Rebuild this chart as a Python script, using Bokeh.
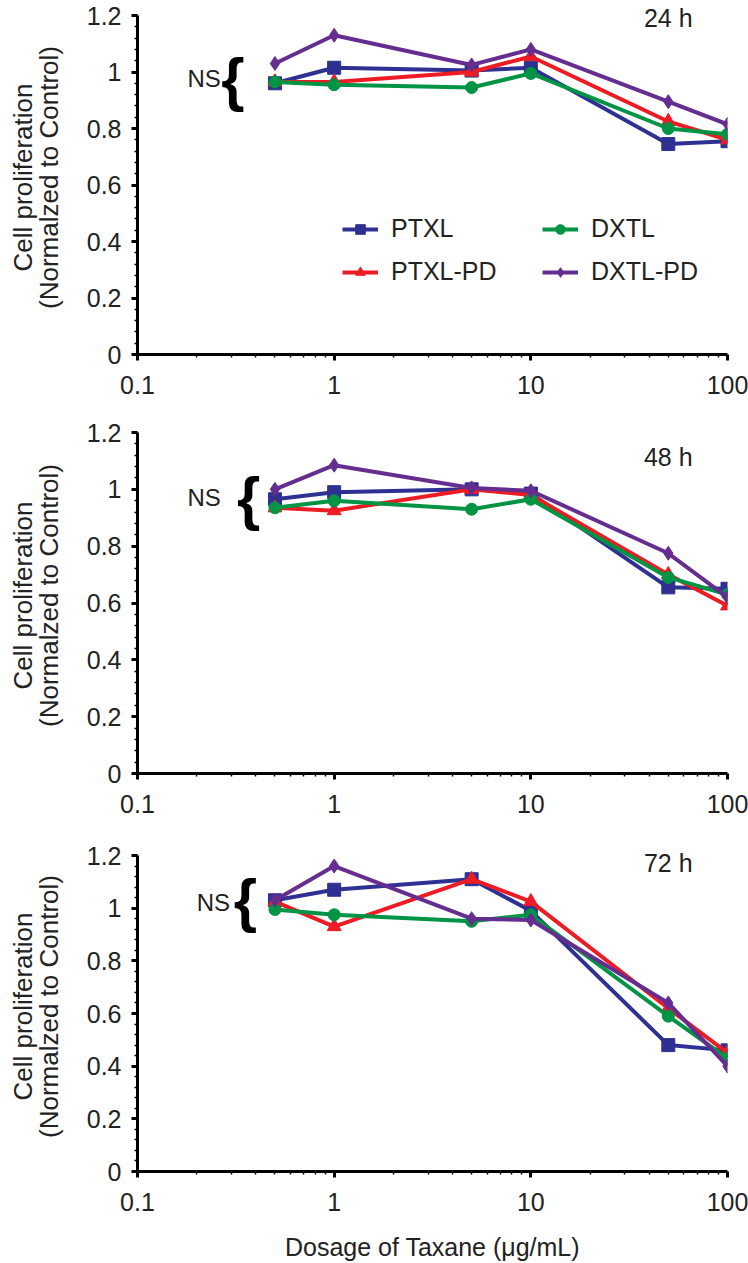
from bokeh.plotting import figure
from bokeh.layouts import column
from bokeh.models import Range1d, FixedTicker, NumeralTickFormatter, Label, Legend, LegendItem
from bokeh.embed import file_html
from bokeh.resources import INLINE

FONT = "Liberation Sans"

# ---------------- data ----------------
doses = [0.5, 1, 5, 10, 50, 100]
series = ["PTXL", "PTXL-PD", "DXTL", "DXTL-PD"]
colors = ["#2E3192", "#ED1C24", "#009444", "#662D91"]
markers = ["square", "triangle", "circle", "diamond"]
marker_sizes = [13, 14, 12, 14]

x_ticks = [0.1, 1, 10, 100]
y_ticks = [0, 0.2, 0.4, 0.6, 0.8, 1.0, 1.2]
time_labels = ["24 h", "48 h", "72 h"]

ptxl_24h = [0.96, 1.015, 1.005, 1.015, 0.745, 0.755]
ptxlpd_24h = [0.965, 0.965, 1.00, 1.055, 0.825, 0.76]
dxtl_24h = [0.965, 0.955, 0.945, 0.995, 0.80, 0.78]
dxtlpd_24h = [1.03, 1.13, 1.025, 1.08, 0.895, 0.815]

ptxl_48h = [0.965, 0.99, 1.00, 0.985, 0.655, 0.65]
ptxlpd_48h = [0.935, 0.925, 1.00, 0.98, 0.70, 0.59]
dxtl_48h = [0.935, 0.96, 0.93, 0.965, 0.69, 0.63]
dxtlpd_48h = [1.00, 1.085, 1.005, 0.995, 0.775, 0.62]

ptxl_72h = [1.03, 1.07, 1.11, 0.99, 0.48, 0.46]
ptxlpd_72h = [1.025, 0.93, 1.11, 1.025, 0.62, 0.45]
dxtl_72h = [0.995, 0.975, 0.95, 0.975, 0.59, 0.43]
dxtlpd_72h = [1.03, 1.16, 0.96, 0.955, 0.64, 0.40]

panel_data = [
    [ptxl_24h, ptxlpd_24h, dxtl_24h, dxtlpd_24h],
    [ptxl_48h, ptxlpd_48h, dxtl_48h, dxtlpd_48h],
    [ptxl_72h, ptxlpd_72h, dxtl_72h, dxtlpd_72h],
]

# ---------------- layout settings ----------------
layouts = [
    dict(height=417, left=132, bottom=63, ytop=1.2531),
    dict(height=424, left=133, bottom=68, ytop=1.2528),
    dict(height=422, left=137, bottom=92, ytop=1.2532),
]
time_pos = [(50, 1.19), (50, 1.113), (50, 1.17)]
ns_pos = [((0.218, 0.977), (0.306, 0.973)),
          ((0.218, 0.972), (0.368, 0.968)),
          ((0.243, 1.02), (0.354, 1.03))]

x_minor = [m * 10.0 ** e for e in (-1, 0, 1) for m in range(2, 10)]
y_minor = [round(i * 0.04, 2) for i in range(31)]


def style_axis(ax):
    ax.axis_line_width = 3
    ax.axis_line_color = "black"
    ax.major_tick_line_width = 3
    ax.major_tick_out = 6
    ax.major_tick_in = 0
    ax.minor_tick_out = 3
    ax.minor_tick_in = 0
    ax.minor_tick_line_width = 1.5
    ax.major_label_text_font = FONT
    ax.major_label_text_font_size = "25px"
    ax.major_label_text_color = "#222222"
    ax.axis_label_text_font = FONT
    ax.axis_label_text_font_style = "normal"
    ax.axis_label_text_color = "#222222"


figs = []
for i, (vals, lay) in enumerate(zip(panel_data, layouts)):
    p = figure(width=748, height=lay["height"], x_axis_type="log",
               x_range=Range1d(0.1, 100), y_range=Range1d(0, lay["ytop"]),
               output_backend="svg", toolbar_location=None,
               min_border_left=lay["left"], min_border_right=21,
               min_border_top=0, min_border_bottom=lay["bottom"])
    p.outline_line_color = None
    p.xgrid.visible = False
    p.ygrid.visible = False
    p.background_fill_color = "white"

    p.xaxis.ticker = FixedTicker(ticks=x_ticks, minor_ticks=x_minor)
    p.xaxis.formatter = NumeralTickFormatter(format="0.[0]")
    p.yaxis.ticker = FixedTicker(ticks=y_ticks, minor_ticks=y_minor)
    p.yaxis.formatter = NumeralTickFormatter(format="0.[0]")
    p.yaxis.bounds = (0, 1.2)
    style_axis(p.xaxis[0])
    style_axis(p.yaxis[0])
    p.xaxis.major_label_standoff = 15
    p.yaxis.major_label_standoff = 10
    p.yaxis.axis_label = "Cell proliferation\n(Normalzed to Control)"
    p.yaxis.axis_label_text_font_size = "26px"
    p.yaxis.axis_label_text_line_height = 0.85
    p.yaxis.axis_label_standoff = 20
    if i == 2:
        p.xaxis.axis_label = "Dosage of Taxane (\u03bcg/mL)"
        p.xaxis.axis_label_text_font_size = "25px"
        p.xaxis.axis_label_standoff = 19

    items = []
    for name, ys, c, m, s in zip(series, vals, colors, markers, marker_sizes):
        lr = p.line(doses, ys, line_color=c, line_width=4)
        sr = p.scatter(doses, ys, marker=m, size=s, fill_color=c, line_color=c)
        items.append(LegendItem(label=name, renderers=[lr, sr]))

    if i == 0:
        for cols, xloc in (([items[0], items[1]], 205), ([items[2], items[3]], 405)):
            leg = Legend(items=cols, location=(xloc, 68), orientation="vertical",
                         label_text_font=FONT, label_text_font_size="25px",
                         label_text_color="#222222",
                         glyph_width=36, glyph_height=24, label_height=24,
                         label_standoff=13,
                         spacing=14, padding=0, margin=0,
                         border_line_alpha=0, background_fill_alpha=0)
            p.add_layout(leg)

    tx, ty = time_pos[i]
    p.add_layout(Label(x=tx, y=ty, text=time_labels[i], text_font=FONT,
                       text_font_size="25px", text_color="#222222",
                       text_align="center", text_baseline="middle"))
    (nx, ny), (bx, by) = ns_pos[i]
    p.add_layout(Label(x=nx, y=ny, text="NS", text_font=FONT,
                       text_font_size="24px", text_color="#222222",
                       text_align="center", text_baseline="middle"))
    p.add_layout(Label(x=bx, y=by, text="{", text_font=FONT,
                       text_font_size="60px", text_font_style="bold",
                       text_color="black",
                       text_align="center", text_baseline="middle"))
    figs.append(p)

layout = column(*figs)
open("out.html", "w").write(file_html(layout, INLINE))
